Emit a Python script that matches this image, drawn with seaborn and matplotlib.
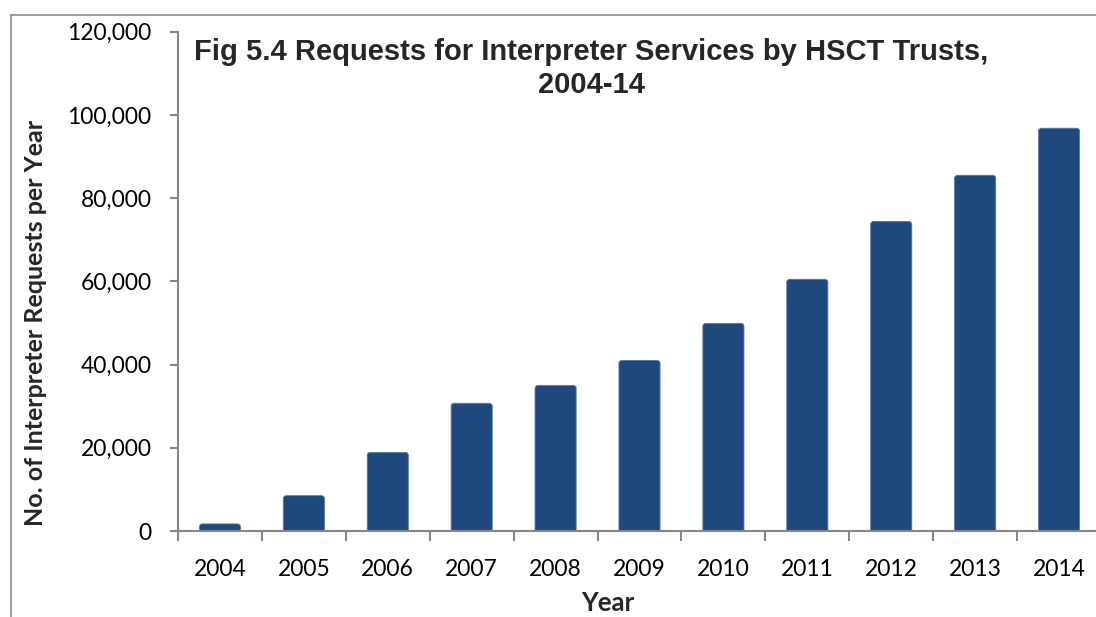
import matplotlib
matplotlib.use("Agg")
import matplotlib.pyplot as plt
from matplotlib.patches import FancyBboxPatch
import seaborn as sns
import pandas as pd

# Requests for interpreter services per year
years = ["2004", "2005", "2006", "2007", "2008", "2009",
         "2010", "2011", "2012", "2013", "2014"]
requests = [1700, 8500, 18900, 30700, 35000, 41000,
            49900, 60500, 74400, 85500, 96800]
y_ticks = [0, 20000, 40000, 60000, 80000, 100000, 120000]

title = "Fig 5.4 Requests for Interpreter Services by HSCT Trusts,\n2004-14"
x_label = "Year"
y_label = "No. of Interpreter Requests per Year"

bar_color = "#1F497D"
axis_color = "#868686"

sns.set_theme(style="white")
plt.rcParams["font.family"] = ["Lato", "DejaVu Sans"]

df = pd.DataFrame({"year": years, "requests": requests})

W, H = 1096, 617
fig = plt.figure(figsize=(W / 100, H / 100), dpi=100)
ax = fig.add_axes([178 / W, 1 - 531 / H, 923 / W, 499.3 / H])

sns.barplot(data=df, x="year", y="requests", color=bar_color,
            width=0.49, saturation=1, ax=ax, zorder=2)

# Give the bars softly rounded top corners
px_x = 923 / len(years)          # pixels per category
px_y = 499.3 / 120000            # pixels per request
r = 3 / px_x
aspect = (3 / px_y) / r
for p in list(ax.patches):
    x0, w, h = p.get_x(), p.get_width(), p.get_height()
    ext = 3 / px_y
    rb = FancyBboxPatch((x0, -ext), w, h + ext,
                        boxstyle=f"round,pad=0,rounding_size={r}",
                        mutation_aspect=aspect, facecolor=bar_color,
                        edgecolor="#5a7aa6", linewidth=0.6, zorder=2)
    ax.add_patch(rb)
    p.remove()

ax.set_ylim(0, 120000)
ax.set_xlim(-0.5, len(years) - 0.5)
ax.set_yticks(y_ticks)
ax.set_yticklabels([f"{v:,}" for v in y_ticks])
ax.set_xticks(range(len(years)))
ax.set_xticklabels(years)
ax.set_xticks([i - 0.5 for i in range(len(years) + 1)], minor=True)

for side in ("top", "right"):
    ax.spines[side].set_visible(False)
for side in ("left", "bottom"):
    ax.spines[side].set_color(axis_color)
    ax.spines[side].set_linewidth(1.5)
    ax.spines[side].set_zorder(3)

ax.tick_params(axis="y", which="major", direction="out", length=6,
               width=1.5, color=axis_color, labelsize=16.5, pad=13,
               left=True, labelcolor="black")
ax.tick_params(axis="x", which="major", length=0, labelsize=16.5, pad=20,
               labelcolor="black")
ax.tick_params(axis="x", which="minor", direction="out", length=7,
               width=1.5, color=axis_color, bottom=True)

ax.set_xlabel("")
ax.set_ylabel("")
fig.text(608 / W, 1 - 603 / H, x_label, ha="center", va="center",
         fontsize=18.5, fontweight="bold")
fig.text(36 / W, 1 - 323 / H, y_label, ha="center", va="center",
         rotation=90, fontsize=18, fontweight="bold")

fig.text(591 / W, 1 - 38 / H, title, ha="center", va="top",
         fontsize=21, fontweight="bold", linespacing=1.22,
         family=["Liberation Sans", "DejaVu Sans"])

# Outer chart frame
fig.add_artist(plt.Line2D([11 / W, 11 / W], [0, 1 - 15 / H],
                          color="#8c8c8c", linewidth=1.2))
fig.add_artist(plt.Line2D([11 / W, 1], [1 - 15 / H, 1 - 15 / H],
                          color="#8c8c8c", linewidth=1.2))

fig.savefig("out.png", dpi=100)
